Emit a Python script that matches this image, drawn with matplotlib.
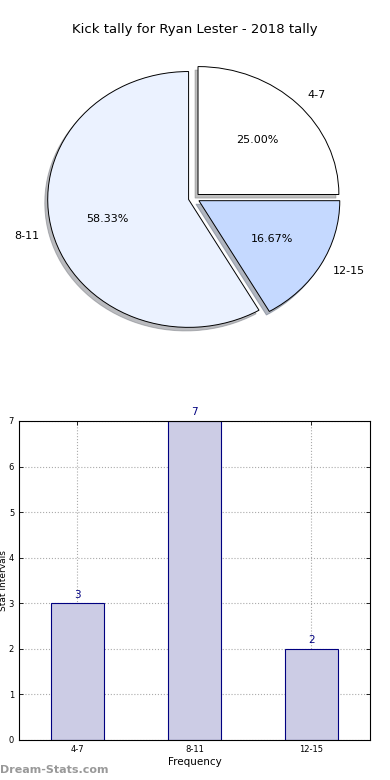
import matplotlib
matplotlib.use('Agg')
import matplotlib.pyplot as plt

# 데이터
labels = ['4-7', '8-11', '12-15']
counts = [3, 7, 2]
pie_colors = ['#FFFFFF', '#EBF2FF', '#C5D9FF']
explode = [0.04, 0.04, 0.04]

plt.rcParams['font.family'] = 'DejaVu Sans'

fig = plt.figure(figsize=(3.9, 7.8), dpi=100)
fig.text(0.5, 1 - 30 / 780, 'Kick tally for Ryan Lester - 2018 tally',
         ha='center', va='center', fontsize=9.5)

# 파이 차트
ax1 = fig.add_axes([0.046, 0.541, 0.903, 0.410])
wedges, texts, autotexts = ax1.pie(
    counts, labels=labels, colors=pie_colors, explode=explode,
    autopct='%1.2f%%', startangle=0,
    shadow={'ox': -0.015, 'oy': -0.02, 'shade': 0.5},
    wedgeprops={'edgecolor': 'black', 'linewidth': 0.7},
    textprops={'fontsize': 8})
ax1.set_aspect('auto')
ax1.set_xlim(-1.25, 1.25)
ax1.set_ylim(-1.25, 1.25)
ax1.axis('off')

# 막대 차트
ax2 = fig.add_axes([0.0487, 0.0513, 0.9, 0.409])
x = range(len(labels))
ax2.bar(x, counts, width=0.45, color='#CCCCE5', edgecolor='#000080',
        linewidth=0.8, zorder=2)
for i, c in zip(x, counts):
    ax2.text(i, c + 0.08, str(c), ha='center', va='bottom',
             color='#000080', fontsize=7.5)
ax2.set_xlim(-0.5, 2.5)
ax2.set_ylim(0, 7)
ax2.set_xticks(list(x))
ax2.set_xticklabels(labels)
ax2.set_yticks(range(8))
ax2.tick_params(direction='in', top=True, right=True, labelsize=6,
                length=3, width=0.6)
ax2.grid(True, linestyle=':', color='#aaaaaa', linewidth=0.8, zorder=0)
ax2.set_axisbelow(True)
for s in ax2.spines.values():
    s.set_linewidth(0.8)
ax2.set_xlabel('Frequency', fontsize=7.5, labelpad=2)
ax2.set_ylabel('Stat Intervals', fontsize=6.5)
ax2.yaxis.set_label_coords(-0.031, 0.5)

fig.text(0.0, 1 - 770 / 780, 'Dream-Stats.com', ha='left', va='center',
         color='#999999', fontsize=8, fontweight='bold')

plt.savefig('out.png', dpi=100)
